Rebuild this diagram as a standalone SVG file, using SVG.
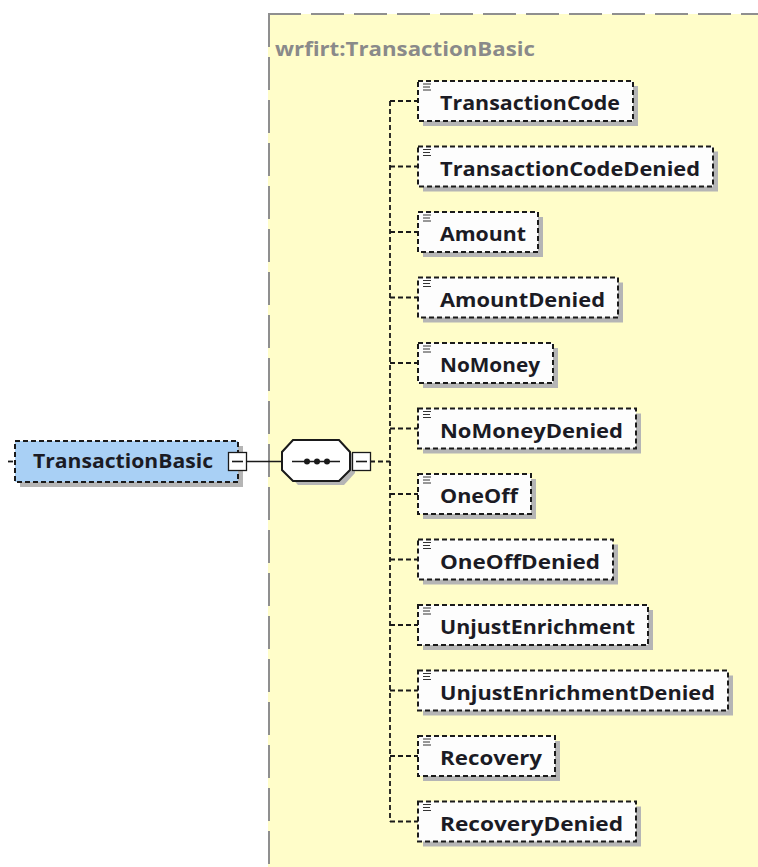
<svg xmlns="http://www.w3.org/2000/svg" width="758" height="867" viewBox="0 0 758 867">
<style>
.bg{fill:#ffffff}
.region{fill:#fffdc9}
.rborder{fill:none;stroke:#8f8f8f;stroke-width:2;stroke-dasharray:33 10}
.title{font-family:"Open Sans","DejaVu Sans",sans-serif;font-weight:bold;font-size:19px;fill:#8a8a8a}
.shadow{fill:#b5b5b5}
.box{fill:#fdfdfd;stroke:#1a1a1a;stroke-width:2;stroke-dasharray:5 3}
.root{fill:#a9d0f5;stroke:#1a1a1a;stroke-width:2;stroke-dasharray:5 3}
.lbl{font-family:"Open Sans","DejaVu Sans",sans-serif;font-weight:bold;font-size:20px;fill:#1b1b24}
.icon{stroke:#333;stroke-width:1}
.conn{fill:none;stroke:#1a1a1a;stroke-width:1.8;stroke-dasharray:5 3}
.solid{fill:none;stroke:#1a1a1a;stroke-width:1.6}
.mbox{fill:#ffffff;stroke:#1a1a1a;stroke-width:1.3}
.oct{fill:#ffffff;stroke:#1a1a1a;stroke-width:2}
</style>
<rect class="bg" x="0" y="0" width="758" height="867"/>
<g id="region">
<rect class="region" x="268" y="14" width="500" height="870"/>
<line class="rborder" x1="268" y1="14" x2="758" y2="14"/>
<line class="rborder" x1="269" y1="14" x2="269" y2="867"/>
<text class="title" x="275" y="56" textLength="260" lengthAdjust="spacingAndGlyphs">wrfirt:TransactionBasic</text>
</g>
<g id="connectors">
<line class="conn" x1="8" y1="461.5" x2="15" y2="461.5"/>
<line class="solid" x1="247" y1="461.5" x2="283" y2="461.5"/>
<line class="conn" x1="370" y1="461.5" x2="390" y2="461.5"/>
<line class="conn" x1="390" y1="101" x2="390" y2="821.5"/>
<line class="conn" x1="390" y1="101" x2="418" y2="101"/>
<line class="conn" x1="390" y1="166.5" x2="418" y2="166.5"/>
<line class="conn" x1="390" y1="232" x2="418" y2="232"/>
<line class="conn" x1="390" y1="297.5" x2="418" y2="297.5"/>
<line class="conn" x1="390" y1="363" x2="418" y2="363"/>
<line class="conn" x1="390" y1="428.5" x2="418" y2="428.5"/>
<line class="conn" x1="390" y1="494" x2="418" y2="494"/>
<line class="conn" x1="390" y1="559.5" x2="418" y2="559.5"/>
<line class="conn" x1="390" y1="625" x2="418" y2="625"/>
<line class="conn" x1="390" y1="690.5" x2="418" y2="690.5"/>
<line class="conn" x1="390" y1="756" x2="418" y2="756"/>
<line class="conn" x1="390" y1="821.5" x2="418" y2="821.5"/>
</g>
<g id="n-TransactionBasic">
<rect class="shadow" x="20" y="446" width="223" height="41"/>
<rect class="root" x="15" y="441" width="223" height="41"/>
<text class="lbl" x="33" y="468" textLength="180" lengthAdjust="spacingAndGlyphs">TransactionBasic</text>
<rect class="mbox" x="228.5" y="452.5" width="18" height="18"/>
<line class="solid" x1="232" y1="461.5" x2="243" y2="461.5"/>
</g>
<g id="n-sequence">
<polygon class="shadow" points="298,445 344,445 355,457 355,473 344,485 298,485 287,473 287,457"/>
<polygon class="oct" points="293,440 339,440 350,452 350,470 339,481 293,481 282,470 282,452"/>
<line class="solid" x1="292" y1="461.5" x2="340" y2="461.5"/>
<circle cx="307" cy="461.5" r="3" fill="#1a1a1a"/>
<circle cx="317" cy="461.5" r="3" fill="#1a1a1a"/>
<circle cx="327" cy="461.5" r="3" fill="#1a1a1a"/>
<rect class="mbox" x="352.5" y="452.5" width="18" height="18"/>
<line class="solid" x1="356" y1="461.5" x2="367" y2="461.5"/>
</g>
<defs>
<g id="ico">
<line class="icon" x1="5" y1="3" x2="13" y2="3"/>
<line class="icon" x1="5" y1="6" x2="12" y2="6"/>
<line class="icon" x1="5" y1="9" x2="13" y2="9"/>
</g>
</defs>
<g id="n-TransactionCode" transform="translate(418,81)">
<rect class="shadow" x="5" y="5" width="215" height="40"/>
<rect class="box" x="0" y="0" width="215" height="40"/>
<use href="#ico"/>
<text class="lbl" x="22" y="29" textLength="180" lengthAdjust="spacingAndGlyphs">TransactionCode</text>
</g>
<g id="n-TransactionCodeDenied" transform="translate(418,146.5)">
<rect class="shadow" x="5" y="5" width="295" height="40"/>
<rect class="box" x="0" y="0" width="295" height="40"/>
<use href="#ico"/>
<text class="lbl" x="22" y="29" textLength="260" lengthAdjust="spacingAndGlyphs">TransactionCodeDenied</text>
</g>
<g id="n-Amount" transform="translate(418,212)">
<rect class="shadow" x="5" y="5" width="120" height="40"/>
<rect class="box" x="0" y="0" width="120" height="40"/>
<use href="#ico"/>
<text class="lbl" x="22" y="29" textLength="86" lengthAdjust="spacingAndGlyphs">Amount</text>
</g>
<g id="n-AmountDenied" transform="translate(418,277.5)">
<rect class="shadow" x="5" y="5" width="200" height="40"/>
<rect class="box" x="0" y="0" width="200" height="40"/>
<use href="#ico"/>
<text class="lbl" x="22" y="29" textLength="165" lengthAdjust="spacingAndGlyphs">AmountDenied</text>
</g>
<g id="n-NoMoney" transform="translate(418,343)">
<rect class="shadow" x="5" y="5" width="135" height="40"/>
<rect class="box" x="0" y="0" width="135" height="40"/>
<use href="#ico"/>
<text class="lbl" x="22" y="29" textLength="100" lengthAdjust="spacingAndGlyphs">NoMoney</text>
</g>
<g id="n-NoMoneyDenied" transform="translate(418,408.5)">
<rect class="shadow" x="5" y="5" width="218" height="40"/>
<rect class="box" x="0" y="0" width="218" height="40"/>
<use href="#ico"/>
<text class="lbl" x="22" y="29" textLength="183" lengthAdjust="spacingAndGlyphs">NoMoneyDenied</text>
</g>
<g id="n-OneOff" transform="translate(418,474)">
<rect class="shadow" x="5" y="5" width="113" height="40"/>
<rect class="box" x="0" y="0" width="113" height="40"/>
<use href="#ico"/>
<text class="lbl" x="22" y="29" textLength="78" lengthAdjust="spacingAndGlyphs">OneOff</text>
</g>
<g id="n-OneOffDenied" transform="translate(418,539.5)">
<rect class="shadow" x="5" y="5" width="195" height="40"/>
<rect class="box" x="0" y="0" width="195" height="40"/>
<use href="#ico"/>
<text class="lbl" x="22" y="29" textLength="160" lengthAdjust="spacingAndGlyphs">OneOffDenied</text>
</g>
<g id="n-UnjustEnrichment" transform="translate(418,605)">
<rect class="shadow" x="5" y="5" width="230" height="40"/>
<rect class="box" x="0" y="0" width="230" height="40"/>
<use href="#ico"/>
<text class="lbl" x="22" y="29" textLength="195" lengthAdjust="spacingAndGlyphs">UnjustEnrichment</text>
</g>
<g id="n-UnjustEnrichmentDenied" transform="translate(418,670.5)">
<rect class="shadow" x="5" y="5" width="310" height="40"/>
<rect class="box" x="0" y="0" width="310" height="40"/>
<use href="#ico"/>
<text class="lbl" x="22" y="29" textLength="275" lengthAdjust="spacingAndGlyphs">UnjustEnrichmentDenied</text>
</g>
<g id="n-Recovery" transform="translate(418,736)">
<rect class="shadow" x="5" y="5" width="137" height="40"/>
<rect class="box" x="0" y="0" width="137" height="40"/>
<use href="#ico"/>
<text class="lbl" x="22" y="29" textLength="102" lengthAdjust="spacingAndGlyphs">Recovery</text>
</g>
<g id="n-RecoveryDenied" transform="translate(418,801.5)">
<rect class="shadow" x="5" y="5" width="218" height="40"/>
<rect class="box" x="0" y="0" width="218" height="40"/>
<use href="#ico"/>
<text class="lbl" x="22" y="29" textLength="183" lengthAdjust="spacingAndGlyphs">RecoveryDenied</text>
</g>
</svg>
